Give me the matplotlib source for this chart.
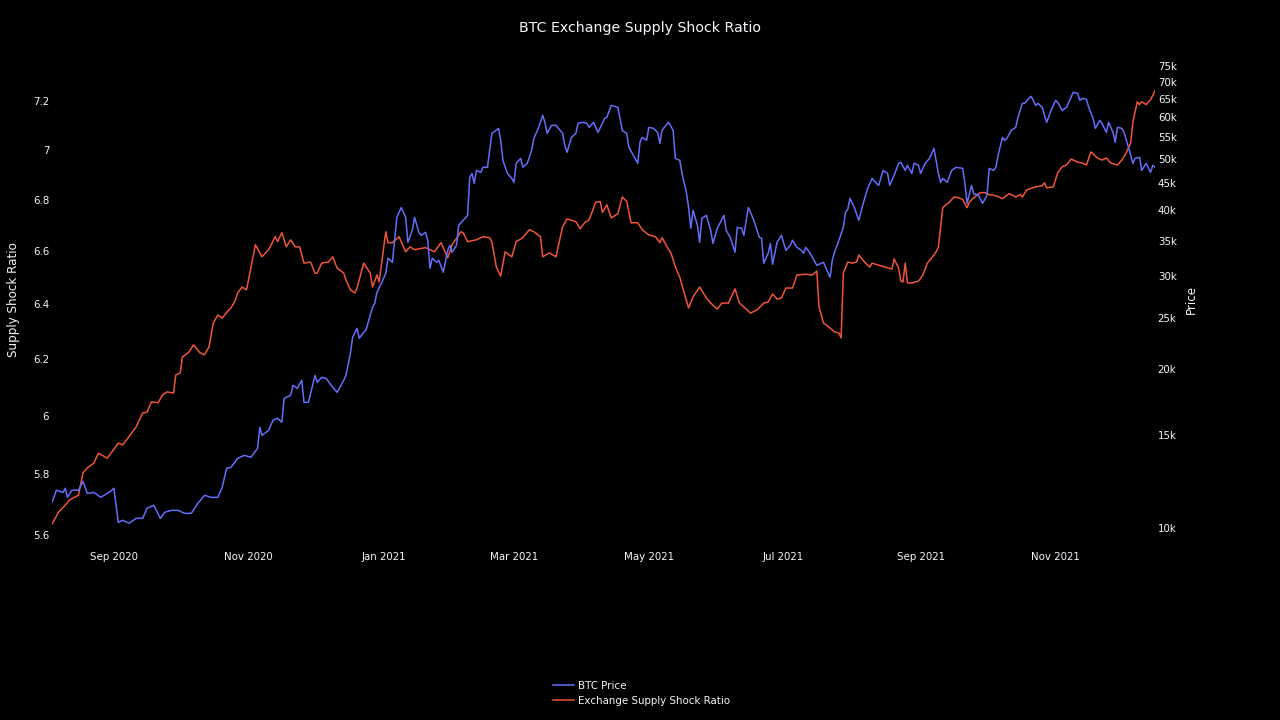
import matplotlib
matplotlib.use("Agg")
import matplotlib.pyplot as plt
import matplotlib.dates as mdates
from matplotlib.ticker import FixedLocator, NullLocator
from matplotlib.lines import Line2D
import numpy as np
import pandas as pd

# ---------------- data ----------------
start_date = "2020-08-04"

ratio_days = [
    0, 3, 6, 8, 12, 14, 16, 19, 21, 25,
    30, 32, 38, 41, 43, 45, 48, 50, 52, 55,
    56, 58, 59, 62, 64, 67, 69, 71, 73, 75,
    77, 80, 81, 83, 84, 86, 88, 90, 92, 94,
    95, 98, 101, 102, 104, 106, 108, 110, 112, 114,
    117, 119, 120, 122, 125, 127, 129, 132, 133, 135,
    137, 138, 141, 144, 145, 147, 148, 151, 152, 154,
    157, 160, 162, 164, 169, 173, 176, 179, 181, 185,
    186, 188, 192, 195, 198, 199, 201, 203, 205, 208,
    210, 213, 214, 216, 218, 221, 222, 225, 228, 231,
    233, 237, 239, 241, 243, 246, 248, 249, 251, 253,
    256, 258, 260, 262, 265, 267, 270, 273, 275, 276,
    279, 280, 282, 284, 286, 288, 290, 293, 296, 299,
    301, 303, 306, 309, 311, 313, 316, 319, 322, 324,
    326, 328, 330, 332, 335, 337, 341, 344, 346, 347,
    349, 352, 354, 356, 357, 358, 360, 362, 364, 365,
    368, 370, 371, 374, 377, 380, 381, 383, 384, 385,
    386, 387, 389, 392, 394, 396, 398, 400, 401, 403,
    404, 406, 408, 410, 412, 414, 415, 417, 420, 422,
    424, 427, 430, 433, 436, 438, 439, 441, 445, 448,
    449, 450, 453, 455, 457, 459, 461, 464, 466, 468,
    470, 473, 475, 477, 479, 482, 484, 486, 488, 489,
    491, 492, 493, 495, 497, 499,
]
ratio_values = [
    5.636, 5.675, 5.698, 5.715, 5.731, 5.805, 5.822, 5.839, 5.872, 5.855,
    5.906, 5.900, 5.961, 6.010, 6.013, 6.049, 6.046, 6.073, 6.084, 6.080,
    6.144, 6.151, 6.208, 6.226, 6.252, 6.223, 6.216, 6.244, 6.332, 6.361,
    6.350, 6.380, 6.387, 6.417, 6.443, 6.465, 6.454, 6.540, 6.625, 6.594,
    6.579, 6.606, 6.656, 6.637, 6.671, 6.617, 6.644, 6.617, 6.617, 6.555,
    6.559, 6.517, 6.517, 6.555, 6.559, 6.579, 6.536, 6.517, 6.491, 6.454,
    6.443, 6.461, 6.555, 6.517, 6.465, 6.510, 6.484, 6.675, 6.633, 6.633,
    6.656, 6.598, 6.617, 6.606, 6.614, 6.598, 6.633, 6.575, 6.625, 6.675,
    6.671, 6.637, 6.644, 6.656, 6.652, 6.637, 6.540, 6.506, 6.598, 6.579,
    6.637, 6.652, 6.663, 6.683, 6.675, 6.656, 6.579, 6.594, 6.579, 6.694,
    6.725, 6.714, 6.687, 6.710, 6.722, 6.790, 6.793, 6.750, 6.780, 6.729,
    6.745, 6.811, 6.793, 6.710, 6.710, 6.683, 6.663, 6.656, 6.633, 6.652,
    6.606, 6.594, 6.540, 6.502, 6.443, 6.387, 6.428, 6.465, 6.424, 6.397,
    6.383, 6.405, 6.405, 6.458, 6.405, 6.391, 6.368, 6.380, 6.405, 6.409,
    6.439, 6.420, 6.424, 6.461, 6.461, 6.510, 6.513, 6.510, 6.525, 6.391,
    6.332, 6.313, 6.299, 6.295, 6.277, 6.517, 6.559, 6.555, 6.559, 6.586,
    6.555, 6.540, 6.555, 6.547, 6.540, 6.532, 6.571, 6.536, 6.487, 6.484,
    6.555, 6.480, 6.480, 6.487, 6.510, 6.555, 6.575, 6.598, 6.617, 6.769,
    6.777, 6.790, 6.811, 6.808, 6.801, 6.769, 6.790, 6.808, 6.828, 6.828,
    6.820, 6.816, 6.804, 6.824, 6.811, 6.820, 6.811, 6.839, 6.851, 6.855,
    6.867, 6.847, 6.851, 6.907, 6.931, 6.938, 6.962, 6.950, 6.946, 6.938,
    6.991, 6.966, 6.958, 6.966, 6.946, 6.938, 6.958, 6.987, 7.027, 7.114,
    7.197, 7.185, 7.197, 7.185, 7.205, 7.243,
]

price_days = [
    0, 2, 5, 6, 7, 9, 12, 14, 16, 19,
    22, 25, 27, 28, 30, 32, 35, 38, 41, 43,
    46, 49, 51, 54, 57, 60, 63, 66, 69, 72,
    75, 77, 79, 81, 84, 87, 90, 93, 94, 95,
    98, 100, 102, 104, 105, 108, 109, 111, 113, 114,
    116, 119, 120, 122, 124, 127, 129, 132, 133, 135,
    136, 138, 139, 141, 142, 145, 146, 147, 149, 151,
    152, 154, 155, 156, 158, 160, 161, 163, 164, 166,
    167, 169, 170, 171, 172, 174, 175, 177, 179, 180,
    181, 183, 184, 186, 188, 189, 190, 191, 192, 194,
    195, 197, 198, 199, 202, 203, 204, 206, 208, 209,
    210, 212, 213, 215, 217, 218, 220, 222, 223, 224,
    226, 228, 231, 232, 233, 235, 237, 238, 240, 242,
    243, 245, 247, 249, 250, 251, 253, 256, 258, 260,
    261, 263, 265, 266, 267, 269, 270, 272, 274, 275,
    276, 277, 279, 281, 282, 284, 285, 287, 288, 289,
    290, 292, 293, 294, 296, 298, 299, 301, 304, 305,
    307, 309, 310, 312, 313, 315, 317, 318, 320, 321,
    322, 324, 325, 326, 328, 330, 332, 334, 335, 337,
    339, 340, 341, 343, 344, 346, 349, 351, 352, 353,
    354, 356, 358, 359, 360, 361, 363, 365, 367, 369,
    371, 373, 374, 376, 378, 379, 381, 383, 384, 386,
    387, 389, 390, 392, 393, 395, 397, 399, 401, 402,
    403, 405, 407, 409, 412, 413, 414, 416, 417, 419,
    421, 423, 424, 426, 427, 428, 430, 431, 432, 434,
    436, 437, 439, 440, 442, 443, 445, 446, 448, 449,
    450, 452, 454, 455, 457, 459, 460, 462, 464, 465,
    466, 468, 469, 471, 472, 474, 475, 477, 478, 480,
    481, 482, 484, 485, 487, 489, 490, 492, 493, 495,
    497, 498, 499,
]
price_k = [
    11.19, 11.79, 11.68, 11.89, 11.43, 11.79, 11.79, 12.26, 11.63, 11.68,
    11.43, 11.63, 11.79, 11.89, 10.25, 10.34, 10.21, 10.43, 10.43, 10.90,
    11.04, 10.43, 10.71, 10.80, 10.80, 10.66, 10.66, 11.14, 11.53, 11.43,
    11.43, 11.94, 12.98, 13.03, 13.55, 13.73, 13.61, 14.16, 15.51, 14.98,
    15.31, 16.00, 16.14, 15.86, 17.60, 17.84, 18.63, 18.39, 19.05, 17.30,
    17.30, 19.46, 18.88, 19.29, 19.21, 18.47, 18.07, 19.05, 19.46, 21.42,
    22.98, 23.89, 22.88, 23.48, 23.68, 26.18, 26.64, 27.95, 29.07, 30.37,
    32.43, 31.86, 35.07, 38.75, 40.46, 38.75, 34.76, 36.63, 38.75, 36.31,
    35.84, 36.31, 35.07, 31.04, 32.43, 31.86, 32.14, 30.50, 33.57, 34.31,
    33.28, 34.31, 37.44, 38.26, 39.10, 46.15, 46.96, 44.95, 47.58, 47.17,
    48.22, 48.22, 51.92, 55.91, 57.15, 54.24, 49.70, 46.96, 45.95, 45.15,
    49.06, 50.14, 48.22, 49.06, 51.92, 54.71, 57.15, 60.48, 58.68, 55.91,
    57.91, 57.91, 55.91, 53.06, 51.48, 54.95, 55.91, 58.43, 58.68, 58.43,
    57.40, 58.68, 56.16, 58.43, 59.70, 59.96, 63.18, 62.63, 56.64, 55.91,
    52.60, 50.81, 49.06, 53.77, 54.95, 54.24, 57.40, 57.15, 56.16, 53.53,
    56.64, 57.40, 58.68, 56.64, 50.14, 49.70, 46.96, 43.23, 40.46, 36.95,
    39.98, 37.44, 34.76, 38.60, 39.10, 36.63, 34.61, 36.95, 39.10, 36.63,
    35.38, 33.28, 37.11, 36.95, 35.84, 40.46, 38.75, 37.73, 35.53, 35.38,
    31.72, 33.14, 34.61, 31.58, 34.76, 35.84, 33.57, 34.31, 35.07, 34.01,
    33.57, 33.14, 34.01, 33.14, 32.57, 31.44, 31.86, 30.50, 29.85, 32.14,
    33.28, 35.07, 37.11, 39.63, 40.16, 42.12, 40.46, 38.26, 41.21, 43.99,
    45.95, 44.95, 44.57, 47.58, 46.96, 44.57, 46.56, 49.06, 49.27, 47.58,
    48.64, 46.96, 49.06, 48.64, 46.96, 49.06, 50.14, 52.37, 46.96, 45.15,
    45.95, 45.15, 47.58, 48.22, 48.00, 44.95, 41.21, 44.57, 42.90, 42.80,
    41.21, 42.67, 48.00, 47.58, 48.22, 50.81, 54.95, 54.24, 54.71, 56.64,
    57.40, 59.96, 63.73, 63.73, 65.14, 65.71, 63.18, 63.73, 62.63, 60.48,
    58.68, 61.82, 64.57, 64.01, 61.82, 62.63, 64.01, 66.87, 66.58, 64.57,
    65.14, 64.86, 62.63, 59.70, 57.15, 59.17, 58.43, 56.16, 58.68, 56.16,
    53.77, 57.40, 57.15, 56.16, 52.60, 49.06, 50.14, 50.36, 47.58, 49.06,
    47.17, 48.64, 48.22,
]

ratio_ticks = [5.6, 5.8, 6.0, 6.2, 6.4, 6.6, 6.8, 7.0, 7.2]
price_ticks_k = [10, 15, 20, 25, 30, 35, 40, 45, 50, 55, 60, 65, 70, 75]
x_tick_dates = ["2020-09-01", "2020-11-01", "2021-01-01", "2021-03-01",
                "2021-05-01", "2021-07-01", "2021-09-01", "2021-11-01"]

title = "BTC Exchange Supply Shock Ratio"
series_names = ["BTC Price", "Exchange Supply Shock Ratio"]

assert len(ratio_days) == len(ratio_values)
assert len(price_days) == len(price_k)

# ---------------- styling ----------------
BG = "#000000"
TXT = "#f2f5fa"
BLUE = "#636efa"
RED = "#ef553b"
plt.rcParams["font.family"] = ["DejaVu Sans"]

W, H = 1280, 720
fig = plt.figure(figsize=(W / 100, H / 100), dpi=100, facecolor=BG)

left_px, right_px, top_px, bottom_px = 52, 1155, 60, 540
ax = fig.add_axes([left_px / W, 1 - bottom_px / H,
                   (right_px - left_px) / W, (bottom_px - top_px) / H])
ax.set_facecolor(BG)
ax2 = ax.twinx()

t0 = pd.Timestamp(start_date)
ratio_dates = t0 + pd.to_timedelta(ratio_days, unit="D")
price_dates = t0 + pd.to_timedelta(price_days, unit="D")
prices = np.array(price_k) * 1000.0

l_ratio, = ax.plot(ratio_dates, ratio_values, color=RED, lw=1.1)
l_price, = ax2.plot(price_dates, prices, color=BLUE, lw=1.1)

ax.set_xlim(t0, t0 + pd.Timedelta(days=max(ratio_days[-1], price_days[-1])))

ax.set_yscale("log")
ax.set_ylim(5.584, 7.373)
ax.yaxis.set_major_locator(FixedLocator(ratio_ticks))
ax.set_yticklabels([f"{v:g}" for v in ratio_ticks])
ax.yaxis.set_minor_locator(NullLocator())

ax2.set_yscale("log")
ax2.set_ylim(9490, 77000)
ax2.yaxis.set_major_locator(FixedLocator([v * 1000 for v in price_ticks_k]))
ax2.set_yticklabels([f"{v}k" for v in price_ticks_k])
ax2.yaxis.set_minor_locator(NullLocator())

ax.xaxis.set_major_locator(FixedLocator(mdates.date2num(pd.to_datetime(x_tick_dates))))
ax.xaxis.set_major_formatter(mdates.DateFormatter("%b %Y"))
ax.xaxis.set_minor_locator(NullLocator())

for a in (ax, ax2):
    for s in a.spines.values():
        s.set_visible(False)
    a.grid(False)

ax.tick_params(axis="x", length=0, pad=9, labelsize=7.4, labelcolor=TXT)
ax.tick_params(axis="y", length=0, pad=2, labelsize=7.4, labelcolor=TXT)
ax2.tick_params(axis="y", length=0, pad=2, labelsize=7.4, labelcolor=TXT)

ax.set_ylabel("Supply Shock Ratio", color=TXT, fontsize=8.6, va="center")
ax.yaxis.set_label_coords((14 - left_px) / (right_px - left_px), 0.5)
ax2.set_ylabel("Price", color=TXT, fontsize=8.6, va="center", rotation=90)
ax2.yaxis.set_label_coords((1191 - left_px) / (right_px - left_px), 0.5)

fig.text(0.5, 1 - 28 / H, title, color=TXT, fontsize=10.2,
         ha="center", va="center")

handles = [Line2D([], [], color=BLUE, lw=1.1), Line2D([], [], color=RED, lw=1.1)]
leg = fig.legend(handles, series_names, loc="upper left",
                 bbox_to_anchor=(553 / W, 1 - 681 / H),
                 frameon=False, fontsize=7.4, handlelength=2.0,
                 handletextpad=0.4, labelspacing=0.45,
                 borderpad=0, borderaxespad=0)
for t in leg.get_texts():
    t.set_color(TXT)

fig.savefig("out.png", dpi=100, facecolor=BG)
